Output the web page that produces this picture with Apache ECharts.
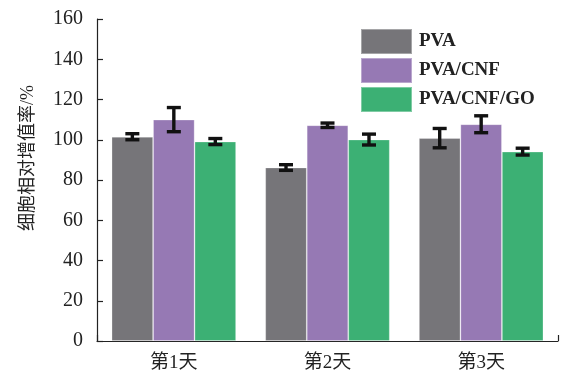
<!DOCTYPE html>
<html>
<head>
<meta charset="utf-8">
<script src="https://cdn.jsdelivr.net/npm/echarts@6/dist/echarts.min.js"></script>
<style>
  html, body { margin: 0; padding: 0; background: #fff; }
  #chart { width: 562px; height: 374px; }
</style>
</head>
<body>
<div id="chart"></div>
<script>
// Relative cell proliferation rate per material over three days
const categories = ['第1天', '第2天', '第3天'];
const seriesNames = ['PVA', 'PVA/CNF', 'PVA/CNF/GO'];
const pvaValues = [101.5, 86.2, 100.8];
const pvaErrors = [1.5, 1.4, 4.8];
const cnfValues = [110.0, 107.2, 107.7];
const cnfErrors = [6.0, 1.1, 4.2];
const goValues = [99.1, 100.1, 94.1];
const goErrors = [1.5, 2.7, 1.7];
const yTicks = [0, 20, 40, 60, 80, 100, 120, 140, 160];

const colors = ['#767579', '#9679b4', '#3cb074'];
const barCategoryGap = 0.19;
const serif = '"Liberation Serif", "Times New Roman", serif';
const cjk = '"Liberation Serif", "Noto Sans CJK SC", serif';

const chart = echarts.init(document.getElementById('chart'), null, { renderer: 'canvas' });

function errorData(values, errors) {
  return values.map((v, i) => [i, v - errors[i], v + errors[i]]);
}

// Draws a capped error bar over the bar at the given slot in the group
function makeErrorRenderer(slot) {
  return function (params, api) {
    const idx = api.value(0);
    const lo = api.coord([idx, api.value(1)]);
    const hi = api.coord([idx, api.value(2)]);
    const band = api.size([1, 0])[0];
    const barW = band * (1 - barCategoryGap) / 3;
    const x = lo[0] + slot * barW;
    const cap = 7;
    const style = { stroke: '#111', lineWidth: 3.4 };
    return {
      type: 'group',
      children: [
        { type: 'line', shape: { x1: x, y1: lo[1], x2: x, y2: hi[1] }, style },
        { type: 'line', shape: { x1: x - cap, y1: hi[1], x2: x + cap, y2: hi[1] }, style },
        { type: 'line', shape: { x1: x - cap, y1: lo[1], x2: x + cap, y2: lo[1] }, style }
      ]
    };
  };
}

const valueSets = [pvaValues, cnfValues, goValues];
const errorSets = [pvaErrors, cnfErrors, goErrors];

const barSeries = seriesNames.map((name, i) => ({
  name,
  type: 'bar',
  data: valueSets[i],
  barGap: '0%',
  barCategoryGap: (barCategoryGap * 100) + '%',
  itemStyle: { color: colors[i], borderColor: 'rgba(255,255,255,0.35)', borderWidth: 0.8 },
  z: 2
}));

const errSeries = seriesNames.map((name, i) => ({
  name: name + '-err',
  type: 'custom',
  renderItem: makeErrorRenderer(i - 1),
  data: errorData(valueSets[i], errorSets[i]),
  encode: { x: 0, y: [1, 2] },
  z: 5,
  silent: true
}));

chart.setOption({
  animation: false,
  backgroundColor: '#fff',
  color: colors,
  grid: { left: 97, right: 4, top: 19, bottom: 33, containLabel: false },
  legend: {
    data: seriesNames,
    orient: 'vertical',
    left: 360,
    top: 28,
    padding: 0,
    itemWidth: 51,
    itemHeight: 25,
    itemGap: 2,
    icon: 'rect',
    textStyle: { fontFamily: serif, fontWeight: 'bold', fontSize: 19, color: '#222', padding: [0, 0, 0, 2] }
  },
  xAxis: [
    {
      type: 'category',
      data: categories,
      boundaryGap: true,
      axisLine: { lineStyle: { color: '#222', width: 1.2 } },
      axisTick: { inside: true, alignWithLabel: true, length: 6, lineStyle: { color: '#222', width: 1.2 } },
      axisLabel: { fontFamily: cjk, fontSize: 19, color: '#222', margin: 13 }
    },
    {
      // plain frame ticks at both ends of the category axis
      type: 'value',
      position: 'bottom',
      min: 0,
      max: 3,
      interval: 3,
      axisLine: { show: false },
      axisTick: { show: true, inside: true, length: 6, lineStyle: { color: '#222', width: 1.2 } },
      axisLabel: { show: false },
      splitLine: { show: false }
    }
  ],
  yAxis: {
    type: 'value',
    min: yTicks[0],
    max: yTicks[yTicks.length - 1],
    interval: yTicks[1] - yTicks[0],
    name: '细胞相对增值率/%',
    nameLocation: 'middle',
    nameGap: 60,
    nameTextStyle: { fontFamily: cjk, fontSize: 18, color: '#222', padding: [0, 0, 0, 44] },
    axisLine: { show: true, lineStyle: { color: '#222', width: 1.2 } },
    axisTick: { show: true, inside: true, length: 6, lineStyle: { color: '#222', width: 1.2 } },
    axisLabel: { fontFamily: serif, fontSize: 20, color: '#222', margin: 14 },
    splitLine: { show: false }
  },
  series: barSeries.concat(errSeries)
});
</script>
</body>
</html>
